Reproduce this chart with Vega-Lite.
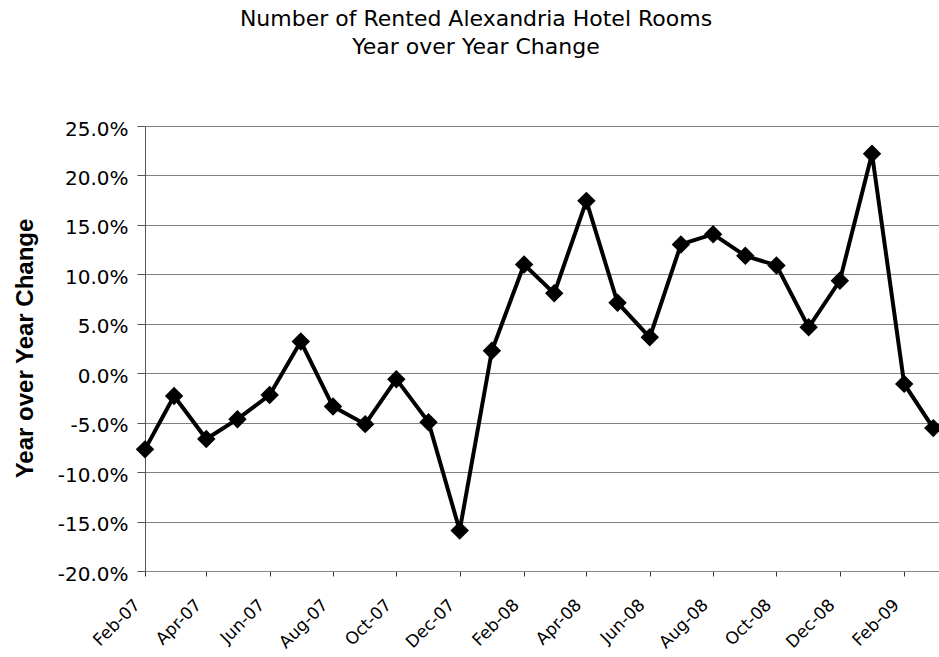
{
  "$schema": "https://vega.github.io/schema/vega-lite/v6.json",
  "width": 794,
  "height": 445,
  "autosize": {"type": "none"},
  "padding": {"left": 145, "top": 126, "right": 0, "bottom": 86},
  "background": "white",
  "title": {
    "text": ["Number of Rented Alexandria Hotel Rooms", "Year over Year Change"],
    "font": "DejaVu Sans",
    "fontSize": 22,
    "fontWeight": "normal",
    "color": "#000000",
    "anchor": "middle",
    "frame": "group",
    "dx": -66,
    "lineHeight": 28,
    "baseline": "bottom",
    "offset": 38
  },
  "data": {
    "values": [
      {"month": "2007-02-01", "change": -0.077},
      {"month": "2007-03-01", "change": -0.023},
      {"month": "2007-04-01", "change": -0.0665},
      {"month": "2007-05-01", "change": -0.0465},
      {"month": "2007-06-01", "change": -0.022},
      {"month": "2007-07-01", "change": 0.032},
      {"month": "2007-08-01", "change": -0.0337},
      {"month": "2007-09-01", "change": -0.0515},
      {"month": "2007-10-01", "change": -0.006},
      {"month": "2007-11-01", "change": -0.0495},
      {"month": "2007-12-01", "change": -0.159},
      {"month": "2008-01-01", "change": 0.0228},
      {"month": "2008-02-01", "change": 0.110},
      {"month": "2008-03-01", "change": 0.0808},
      {"month": "2008-04-01", "change": 0.1743},
      {"month": "2008-05-01", "change": 0.0713},
      {"month": "2008-06-01", "change": 0.0363},
      {"month": "2008-07-01", "change": 0.1302},
      {"month": "2008-08-01", "change": 0.1406},
      {"month": "2008-09-01", "change": 0.1187},
      {"month": "2008-10-01", "change": 0.109},
      {"month": "2008-11-01", "change": 0.0464},
      {"month": "2008-12-01", "change": 0.0935},
      {"month": "2009-01-01", "change": 0.222},
      {"month": "2009-02-01", "change": -0.0108},
      {"month": "2009-03-01", "change": -0.0555}
    ]
  },
  "encoding": {
    "x": {
      "field": "month",
      "type": "temporal",
      "scale": {
        "type": "utc",
        "domain": [
          {"year": 2007, "month": 2, "date": 1, "utc": true},
          {"year": 2009, "month": 3, "date": 6, "hours": 12, "utc": true}
        ]
      },
      "axis": {
        "title": null,
        "values": [
          {"year": 2007, "month": 2, "date": 1, "utc": true},
          {"year": 2007, "month": 4, "date": 1, "utc": true},
          {"year": 2007, "month": 6, "date": 1, "utc": true},
          {"year": 2007, "month": 8, "date": 1, "utc": true},
          {"year": 2007, "month": 10, "date": 1, "utc": true},
          {"year": 2007, "month": 12, "date": 1, "utc": true},
          {"year": 2008, "month": 2, "date": 1, "utc": true},
          {"year": 2008, "month": 4, "date": 1, "utc": true},
          {"year": 2008, "month": 6, "date": 1, "utc": true},
          {"year": 2008, "month": 8, "date": 1, "utc": true},
          {"year": 2008, "month": 10, "date": 1, "utc": true},
          {"year": 2008, "month": 12, "date": 1, "utc": true},
          {"year": 2009, "month": 2, "date": 1, "utc": true}
        ],
        "labelExpr": "utcFormat(datum.value, '%b-%y')",
        "grid": false,
        "domainColor": "#888888",
        "domainWidth": 1,
        "tickColor": "#333333",
        "tickSize": 5,
        "tickWidth": 1,
        "labelAngle": -45,
        "labelAlign": "right",
        "labelBaseline": "middle",
        "labelFont": "DejaVu Sans",
        "labelFontSize": 17,
        "labelColor": "#000000",
        "labelPadding": 26,
        "labelOffset": -8,
        "labelFlush": false,
        "labelOverlap": false
      }
    },
    "y": {
      "field": "change",
      "type": "quantitative",
      "scale": {"domain": [-0.2, 0.25], "nice": false, "zero": false},
      "axis": {
        "values": [-0.2, -0.15, -0.1, -0.05, 0, 0.05, 0.1, 0.15, 0.2, 0.25],
        "labelExpr": "replace(format(datum.value, '.1%'), '\u2212', '-')",
        "labelFont": "DejaVu Sans",
        "labelFontSize": 20,
        "labelColor": "#000000",
        "labelPadding": 9,
        "labelOffset": 3,
        "labelFlush": false,
        "labelOverlap": false,
        "tickSize": 8,
        "tickColor": "#555555",
        "domainColor": "#555555",
        "grid": true,
        "gridColor": "#808080",
        "gridWidth": 1,
        "title": "Year over Year Change",
        "titleFont": "Liberation Sans",
        "titleFontSize": 24,
        "titleFontWeight": "bold",
        "titleColor": "#000000",
        "titleAngle": -90,
        "titleAlign": "center",
        "titleBaseline": "middle",
        "titleX": -120,
        "titleY": 222
      }
    }
  },
  "layer": [
    {"mark": {"type": "line", "color": "#000000", "strokeWidth": 4}},
    {"mark": {"type": "point", "shape": "diamond", "size": 340, "filled": true, "color": "#000000", "opacity": 1}}
  ],
  "config": {"view": {"stroke": null}}
}
